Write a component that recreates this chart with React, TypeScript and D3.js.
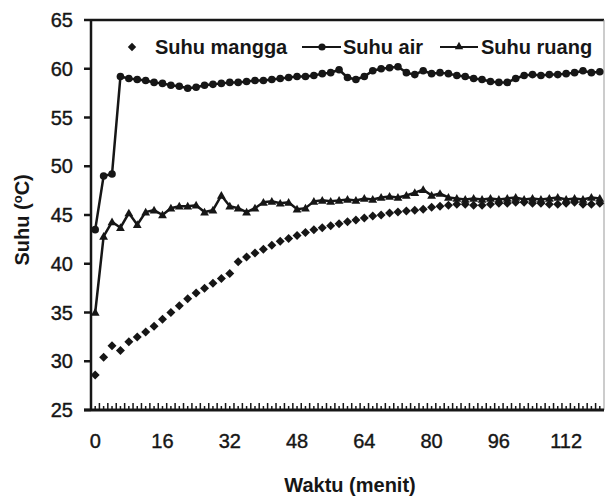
import React from "react";
import * as d3 from "d3";

// waktu (menit), one point every 2 minutes
const waktu = [
  0, 2, 4, 6, 8, 10, 12, 14, 16, 18, 20, 22, 24, 26, 28, 30, 32, 34, 36, 38,
  40, 42, 44, 46, 48, 50, 52, 54, 56, 58, 60, 62, 64, 66, 68, 70, 72, 74, 76, 78,
  80, 82, 84, 86, 88, 90, 92, 94, 96, 98, 100, 102, 104, 106, 108, 110, 112, 114, 116, 118, 120,
];

const suhuMangga = [
  28.6, 30.4, 31.6, 31.1, 32.0, 32.5, 33.0, 33.6, 34.3, 35.0, 35.7, 36.4, 37.0, 37.5, 38.0, 38.5,
  39.0, 40.2, 40.7, 41.1, 41.5, 41.9, 42.3, 42.6, 42.9, 43.2, 43.5, 43.7, 43.9, 44.1, 44.3, 44.5,
  44.7, 44.9, 45.0, 45.2, 45.3, 45.4, 45.5, 45.6, 45.8, 45.9, 46.0, 46.1, 46.1, 46.0, 46.0, 46.1,
  46.2, 46.2, 46.3, 46.3, 46.2, 46.2, 46.1, 46.1, 46.2, 46.3, 46.1, 46.1, 46.2,
];

const suhuAir = [
  43.5, 49.0, 49.2, 59.2, 59.0, 58.9, 58.8, 58.6, 58.5, 58.3, 58.2, 58.0, 58.1, 58.3, 58.4, 58.5,
  58.6, 58.6, 58.7, 58.8, 58.8, 58.9, 59.0, 59.1, 59.2, 59.2, 59.3, 59.5, 59.6, 59.9, 59.1, 58.9,
  59.2, 59.8, 60.0, 60.1, 60.2, 59.6, 59.4, 59.8, 59.5, 59.6, 59.5, 59.3, 59.2, 59.0, 58.9, 58.7,
  58.6, 58.6, 59.0, 59.3, 59.4, 59.3, 59.4, 59.4, 59.5, 59.6, 59.8, 59.6, 59.7,
];

const suhuRuang = [
  35.0, 42.8, 44.3, 43.7, 45.2, 44.0, 45.3, 45.5, 45.0, 45.7, 45.9, 45.9, 46.0, 45.3, 45.5, 47.0,
  45.9, 45.7, 45.3, 45.7, 46.3, 46.4, 46.2, 46.3, 45.6, 45.7, 46.4, 46.5, 46.4, 46.5, 46.6, 46.5,
  46.7, 46.6, 46.8, 46.9, 46.8, 47.0, 47.3, 47.6, 47.0, 47.2, 46.8, 46.7, 46.6, 46.7, 46.6, 46.7,
  46.6, 46.7, 46.8, 46.6, 46.7, 46.6, 46.7, 46.8, 46.6, 46.7, 46.6, 46.8, 46.7,
];

const xTickLabels = [0, 16, 32, 48, 64, 80, 96, 112];
const yTicks = [25, 30, 35, 40, 45, 50, 55, 60, 65];

const ink = "#161616";
const font = "Arial, 'Liberation Sans', sans-serif";

const Diamond = ({ cx, cy, r }: { cx: number; cy: number; r: number }) => (
  <path d={`M${cx},${cy - r}L${cx + r},${cy}L${cx},${cy + r}L${cx - r},${cy}Z`} fill={ink} />
);

const Triangle = ({ cx, cy, r }: { cx: number; cy: number; r: number }) => (
  <path d={`M${cx},${cy - r}L${cx + r},${cy + r * 0.75}L${cx - r},${cy + r * 0.75}Z`} fill={ink} />
);

const App = () => {
  const width = 607;
  const height = 503;
  const margin = { top: 20, right: 3, bottom: 93, left: 91 };

  const x = d3.scaleBand<number>()
    .domain(waktu)
    .range([margin.left, width - margin.right])
    .paddingInner(0)
    .paddingOuter(0);
  const bw = x.bandwidth();
  const px = (t: number) => (x(t) as number) + bw / 2;

  const y = d3.scaleLinear()
    .domain([25, 65])
    .range([height - margin.bottom, margin.top]);

  const line = d3.line<number>()
    .x((_, i) => px(waktu[i]))
    .y(d => y(d));

  const bottom = y(25);
  const right = width - margin.right;

  return (
    <svg width={width} height={height} style={{ position: "absolute", left: 0, top: 0, background: "#fff" }}>
      {/* plot frame */}
      <line x1={margin.left} x2={right} y1={y(65)} y2={y(65)} stroke={ink} strokeWidth={2.5} />
      <line x1={right} x2={right} y1={y(65)} y2={bottom} stroke="#999" strokeWidth={1} />

      {/* y axis */}
      <line x1={margin.left} x2={margin.left} y1={y(65) - 1} y2={bottom} stroke={ink} strokeWidth={2.5} />
      {yTicks.map(d => (
        <g key={d}>
          <line x1={margin.left - 7} x2={margin.left} y1={y(d)} y2={y(d)} stroke={ink} strokeWidth={2.5} />
          <text x={73} y={y(d)} dy="0.36em" textAnchor="end" fontFamily={font} fontSize={20}
            fill={ink} stroke={ink} strokeWidth={0.4}>
            {d}
          </text>
        </g>
      ))}

      {/* x axis */}
      <line x1={margin.left - 7} x2={right} y1={bottom} y2={bottom} stroke={ink} strokeWidth={3} />
      {waktu.map(t => (
        <g key={t}>
          <line x1={x(t)} x2={x(t)} y1={bottom} y2={bottom - 7} stroke={ink} strokeWidth={1.5} />
          <line x1={px(t)} x2={px(t)} y1={bottom} y2={bottom - 4} stroke={ink} strokeWidth={1.5} />
        </g>
      ))}
      {xTickLabels.map(t => (
        <text key={t} x={px(t)} y={bottom + 38} textAnchor="middle" fontFamily={font} fontSize={20}
          fill={ink} stroke={ink} strokeWidth={0.4}>
          {t}
        </text>
      ))}

      {/* axis titles */}
      <text x={350} y={492} textAnchor="middle" fontFamily={font} fontSize={20} fontWeight="bold" fill={ink}>
        Waktu (menit)
      </text>
      <text
        transform={`translate(29, ${y(44.5)}) rotate(-90)`}
        textAnchor="middle"
        fontFamily={font}
        fontSize={20}
        fontWeight="bold"
        fill={ink}
      >
        Suhu (<tspan dy={-7} fontSize={13}>o</tspan><tspan dy={7}>C)</tspan>
      </text>

      {/* series */}
      <path d={line(suhuAir) || ""} fill="none" stroke={ink} strokeWidth={2.5} />
      <path d={line(suhuRuang) || ""} fill="none" stroke={ink} strokeWidth={2.5} />
      {suhuMangga.map((d, i) => (
        <Diamond key={`m${i}`} cx={px(waktu[i])} cy={y(d)} r={4.5} />
      ))}
      {suhuAir.map((d, i) => (
        <circle key={`a${i}`} cx={px(waktu[i])} cy={y(d)} r={3.8} fill={ink} />
      ))}
      {suhuRuang.map((d, i) => (
        <Triangle key={`r${i}`} cx={px(waktu[i])} cy={y(d)} r={4.4} />
      ))}

      {/* legend */}
      <g fontFamily={font} fontSize={20} fontWeight="bold" fill={ink}>
        <Diamond cx={132} cy={47} r={4.2} />
        <text x={155} y={54}>Suhu mangga</text>
        <line x1={302} x2={341} y1={47} y2={47} stroke={ink} strokeWidth={2} />
        <circle cx={322} cy={47} r={3.6} fill={ink} />
        <text x={343} y={54}>Suhu air</text>
        <line x1={440} x2={478} y1={47} y2={47} stroke={ink} strokeWidth={2} />
        <Triangle cx={459} cy={46} r={4.2} />
        <text x={481} y={54}>Suhu ruang</text>
      </g>
    </svg>
  );
};

export default App;
